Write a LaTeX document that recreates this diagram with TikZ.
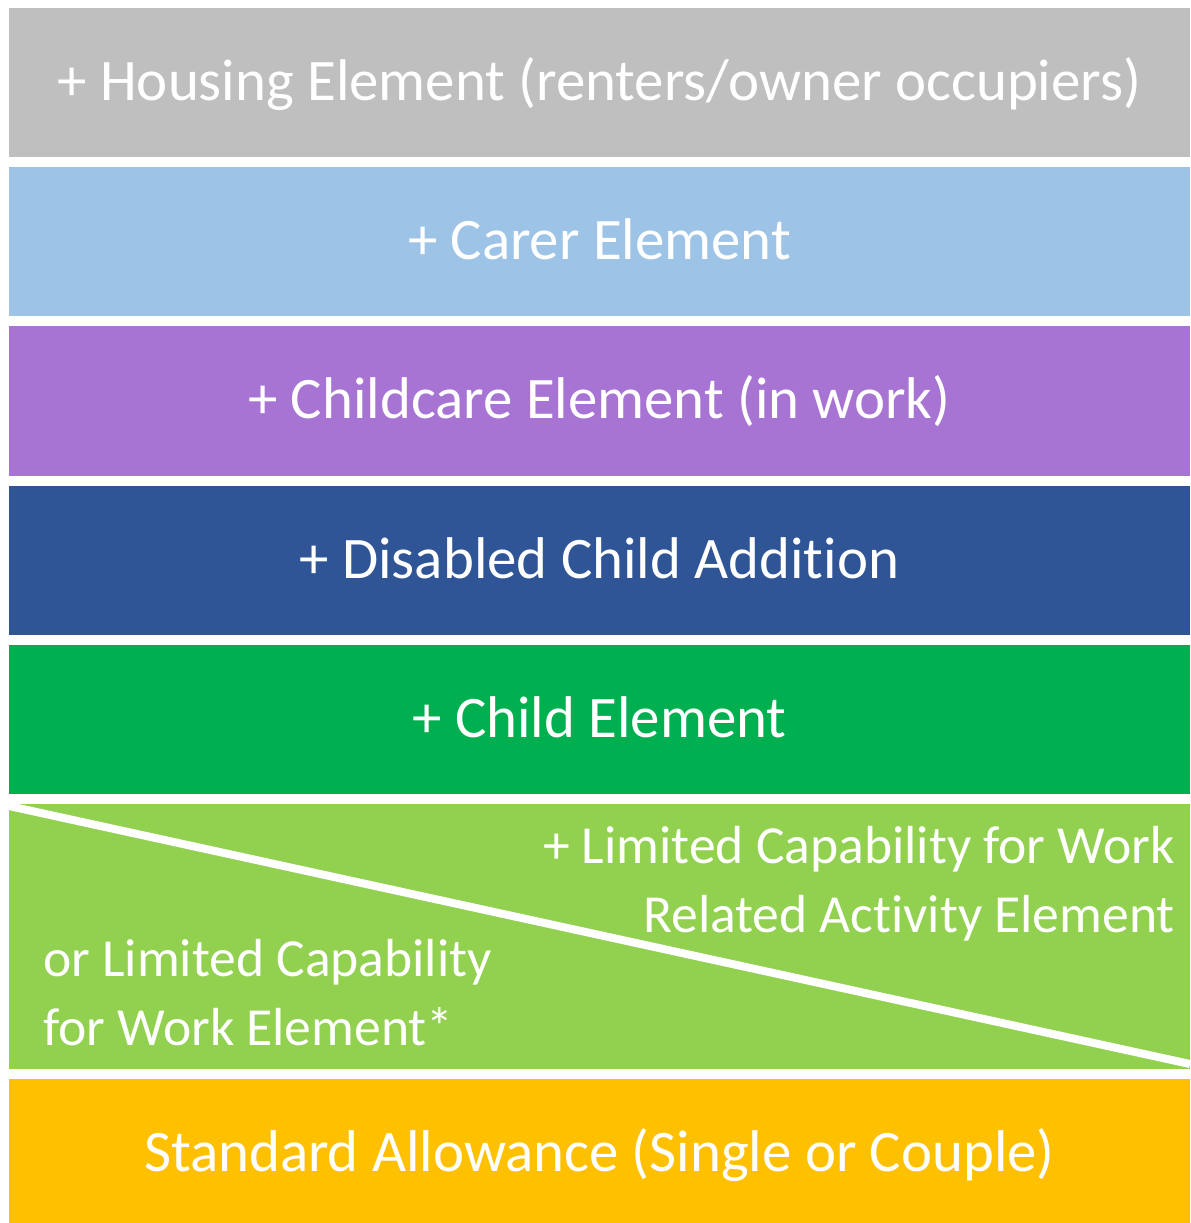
\documentclass[tikz,border=0pt]{standalone}
\usepackage{fontspec}
\setmainfont{Carlito}[Ligatures=NoCommon]
\usepackage{tikz}
\usetikzlibrary{calc}
\definecolor{housingc}{HTML}{BFBFBF}
\definecolor{carerc}{HTML}{9DC3E6}
\definecolor{childcarec}{HTML}{A874D4}
\definecolor{disabledc}{HTML}{2F5597}
\definecolor{childc}{HTML}{00B050}
\definecolor{lcwc}{HTML}{92D050}
\definecolor{standardc}{HTML}{FFC000}
\tikzset{
	%	band/.style={draw,minimum size=1.5em},
	band/.style={inner sep=0pt,minimum width=23.62cm,minimum height=2.99cm,text=white,
		font=\fontsize{33.5}{39.1}\selectfont,text height=26.8pt,text depth=6.7pt},
	label/.style={inner sep=0pt,text=white,font=\fontsize{30.5}{39.1}\selectfont}
}
\begin{document}
\begin{tikzpicture}[x=0.02cm,y=-0.02cm]
	\useasboundingbox (0,0) rectangle (1190,1223);
	
	\node[band,fill=housingc] (housing) at (599.5, 82.5) {+ Housing Element (renters/owner occupiers)};
	\node[band,fill=carerc] (carer) at (599.5, 241.5) {+ Carer Element};
	\node[band,fill=childcarec] (childcare) at (599.5, 401) {+ Childcare Element (in work)};
	\node[band,fill=disabledc] (disabled) at (599.5, 560.5) {+ Disabled Child Addition};
	\node[band,fill=childc] (child) at (599.5, 719.5) {+ Child Element};
	\node[band,fill=lcwc,minimum height=5.3cm] (lcw) at (599.5, 936.5) {};
	\node[band,fill=standardc] (standard) at (599.5, 1153.75) {Standard Allowance (Single or Couple)};
	
	% diagonal split
	\coordinate (split0) at (9, 806);
	\coordinate (split1) at (1190, 1064);
	\begin{scope}
		\clip (lcw.north west) rectangle (lcw.south east);
		\draw[white,line width=0.16cm] (split0) -- (split1);
	\end{scope}
	
	\node[label,anchor=base east,align=right] (lcwra) at (1175, 932) {+ Limited Capability for Work\\Related Activity Element};
	\node[label,anchor=base west,align=left] (lcwe) at (43, 1045) {or Limited Capability\\for Work Element*};
\end{tikzpicture}
\end{document}
